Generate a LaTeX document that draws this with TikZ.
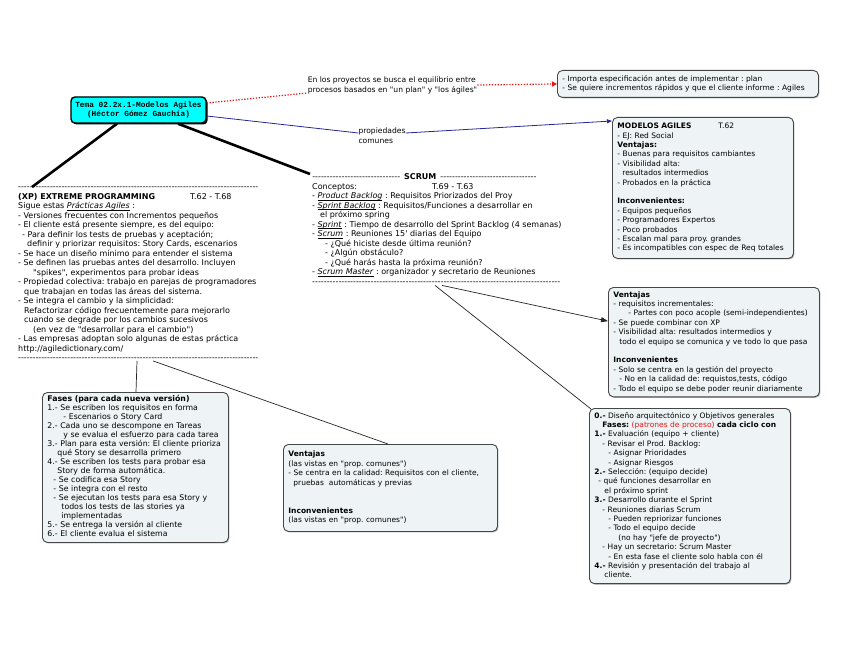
\documentclass[tikz,border=0pt]{standalone}
\usepackage{fontspec}
\setmainfont{DejaVu Sans}
\setmonofont{DejaVu Sans}
\newfontfamily\titlefont{Liberation Mono}
\usetikzlibrary{arrows.meta,shadows}
\definecolor{boxfill}{RGB}{238,244,245}
\definecolor{boxline}{RGB}{70,70,70}
\definecolor{linkblue}{RGB}{40,40,150}
\definecolor{titlecyan}{RGB}{0,255,255}
\definecolor{linkred}{RGB}{235,20,20}
\newcommand\dfill[1]{\hbox to #1{\xleaders\hbox{-}\hfill}}
\newcommand\ulit[1]{\setbox0\hbox{\textit{#1}}\rlap{\vrule width \wd0 height -1.1pt depth 1.6pt}\box0\relax}
\newcommand\ind[1]{\hspace*{#1pt}}
\tikzset{
  freetext/.style={inner sep=0pt, anchor=north west, align=left,
    font=\ttfamily\frenchspacing\fontsize{8}{9.5}\selectfont},
  infobox/.style={draw=boxline, line width=0.9pt, fill=boxfill, rounded corners=5pt,
    drop shadow={shadow xshift=1pt, shadow yshift=-1pt, fill=black, opacity=0.3},
    anchor=north west, align=left, inner xsep=5pt, inner ysep=3pt,
    font=\ttfamily\frenchspacing\fontsize{7.5}{9.4}\selectfont},
  titlebox/.style={draw=black, line width=1.4pt, fill=titlecyan, rounded corners=4pt,
    drop shadow={shadow xshift=1.5pt, shadow yshift=-1.5pt, fill=black, opacity=1},
    align=center, inner sep=2pt, minimum width=135pt, minimum height=26pt,
    font=\titlefont\bfseries\fontsize{7.8}{9.5}\selectfont},
  reddot/.style={draw=linkred, line width=1.2pt, dash pattern=on 1.3pt off 1.6pt},
  bluelink/.style={draw=linkblue, line width=0.8pt},
  thickline/.style={draw=black, line width=2.6pt},
  thinline/.style={draw=black!85, line width=0.7pt},
}
\begin{document}
\frenchspacing
\begin{tikzpicture}[x=1pt,y=-1pt]
\fill[white] (0,0) rectangle (848,655);
\useasboundingbox (0,0) rectangle (848,655);

% title
\node[titlebox] (title) at (138.5,110) {Tema 02.2x.1-Modelos Agiles\\(Héctor Gómez Gauchía)};

% red comment text
\node[freetext, anchor=center, font=\ttfamily\frenchspacing\fontsize{7.6}{10}\selectfont] (redtxt) at (392.5,85)
  {En los proyectos se busca el equilibrio entre\\procesos basados en "un plan" y "los ágiles"};

% top right box
\node[infobox, text width=251pt, minimum height=27pt] (box1) at (557,70)
  {\strut- Importa especificación antes de implementar : plan\\
   - Se quiere incrementos rápidos y que el cliente informe : Agiles\strut};

% propiedades comunes
\node[freetext, anchor=center, font=\ttfamily\fontsize{7.6}{10}\selectfont] (prop) at (382,136) {propiedades\\comunes};

% MODELOS AGILES box
\node[infobox, text width=171pt, minimum height=141pt] (modelos) at (612,117)
  {\strut\makebox[101pt][l]{\textbf{MODELOS AGILES}}T.62\\
   - EJ: Red Social\\
   \textbf{Ventajas:}\\
   - Buenas para requisitos cambiantes\\
   - Visibilidad alta:\\
   \ind{5}resultados intermedios\\
   - Probados en la práctica\\[9.4pt]
   \textbf{Inconvenientes:}\\
   - Equipos pequeños\\
   - Programadores Expertos\\
   - Poco probados\\
   - Escalan mal para proy. grandes\\
   - Es incompatibles con espec de Req totales\strut};

% XP free text
\node[freetext] (xp) at (18,183)
  {\strut\dfill{240pt}\\
   \makebox[172pt][l]{\textbf{(XP) EXTREME PROGRAMMING}}T.62 - T.68\\
   Sigue estas \ulit{Prácticas Agiles} :\\
   - Versiones frecuentes con Incrementos pequeños\\
   - El cliente está presente siempre, es del equipo:\\
   \ind{4}- Para definir los tests de pruebas y aceptación;\\
   \ind{9}definir y priorizar requisitos: Story Cards, escenarios\\
   - Se hace un diseño mínimo para entender el sistema\\
   - Se definen las pruebas antes del desarrollo. Incluyen\\
   \ind{15}"spikes", experimentos para probar ideas\\
   - Propiedad colectiva: trabajo en parejas de programadores\\
   \ind{6}que trabajan en todas las áreas del sistema.\\
   - Se integra el cambio y la simplicidad:\\
   \ind{6}Refactorizar código frecuentemente para mejorarlo\\
   \ind{6}cuando se degrade por los cambios sucesivos\\
   \ind{15}(en vez de "desarrollar para el cambio")\\
   - Las empresas adoptan solo algunas de estas práctica\\
   http://agiledictionary.com/\\
   \dfill{240pt}\strut};

% SCRUM free text
\node[freetext] (scrum) at (312,173)
  {\strut\dfill{88pt}\hspace{4pt}\textbf{SCRUM}\hspace{4pt}\dfill{96pt}\\
   \makebox[120pt][l]{Conceptos:}T.69 - T.63\\
   - \ulit{Product Backlog} : Requisitos Priorizados del Proy\\
   - \ulit{Sprint Backlog} : Requisitos/Funciones a desarrollar en\\
   \ind{8}el próximo spring\\
   - \ulit{Sprint} : Tiempo de desarrollo del Sprint Backlog (4 semanas)\\
   - \ulit{Scrum} : Reuniones 15' diarias del Equipo\\
   \ind{13}- ¿Qué hiciste desde última reunión?\\
   \ind{13}- ¿Algún obstáculo?\\
   \ind{13}- ¿Qué harás hasta la próxima reunión?\\
   - \ulit{Scrum Master} : organizador y secretario de Reuniones\\
   \dfill{248pt}\strut};

% SCRUM Ventajas box
\node[infobox, text width=201pt, minimum height=109pt] (scrumV) at (608,287)
  {\strut\textbf{Ventajas}\\
   - requisitos incrementales:\\
   \ind{15}- Partes con poco acople (semi-independientes)\\
   - Se puede combinar con XP\\
   - Visibilidad alta: resultados intermedios y\\
   \ind{6}todo el equipo se comunica y ve todo lo que pasa\\[9.4pt]
   \textbf{Inconvenientes}\\
   - Solo se centra en la gestión del proyecto\\
   \ind{6}- No en la calidad de: requistos,tests, código\\
   - Todo el equipo se debe poder reunir diariamente\strut};

% SCRUM Fases box
\node[infobox, text width=191pt, minimum height=174pt] (scrumF) at (589,408)
  {\strut\textbf{0.-} Diseño arquitectónico y Objetivos generales\\
   \ind{8}\textbf{Fases:} {\color{linkred}(patrones de proceso)} \textbf{cada ciclo con}\\
   \textbf{1.-} Evaluación (equipo + cliente)\\
   \ind{8}- Revisar el Prod. Backlog:\\
   \ind{14}- Asignar Prioridades\\
   \ind{14}- Asignar Riesgos\\
   \textbf{2.-} Selección: (equipo decide)\\
   \ind{4}- qué funciones desarrollar en\\
   \ind{10}el próximo sprint\\
   \textbf{3.-} Desarrollo durante el Sprint\\
   \ind{8}- Reuniones diarias Scrum\\
   \ind{14}- Pueden repriorizar funciones\\
   \ind{14}- Todo el equipo decide\\
   \ind{24}(no hay "jefe de proyecto")\\
   \ind{8}- Hay un secretario: Scrum Master\\
   \ind{14}- En esta fase el cliente solo habla con él\\
   \textbf{4.-} Revisión y presentación del trabajo al\\
   \ind{10}cliente.\strut};

% XP Fases box
\node[infobox, text width=176pt, minimum height=148pt,
      font=\ttfamily\frenchspacing\fontsize{7.8}{9.0}\selectfont] (xpF) at (42,392)
  {\strut\textbf{Fases (para cada nueva versión)}\\
   1.- Se escriben los requisitos en forma\\
   \ind{16}- Escenarios o Story Card\\
   2.- Cada uno se descompone en Tareas\\
   \ind{16}y se evalua el esfuerzo para cada tarea\\
   3.- Plan para esta versión: El cliente prioriza\\
   \ind{10}qué Story se desarrolla primero\\
   4.- Se escriben los tests para probar esa\\
   \ind{10}Story de forma automática.\\
   \ind{6}- Se codifica esa Story\\
   \ind{6}- Se integra con el resto\\
   \ind{6}- Se ejecutan los tests para esa Story y\\
   \ind{14}todos los tests de las stories ya\\
   \ind{14}implementadas\\
   5.- Se entrega la versión al cliente\\
   6.- El cliente evalua el sistema\strut};

% XP Ventajas box
\node[infobox, text width=204pt, minimum height=87pt] (xpV) at (283,444)
  {\strut\textbf{Ventajas}\\
   (las vistas en "prop. comunes")\\
   - Se centra en la calidad: Requisitos con el cliente,\\
   \ind{5}pruebas\ \ automáticas y previas\\[18.8pt]
   \textbf{Inconvenientes}\\
   (las vistas en "prop. comunes")\strut};

% connectors
\draw[reddot] ([yshift=7pt]title.east) -- ([yshift=-8pt]redtxt.west);
\draw[reddot, -{Triangle[length=5pt,width=5pt]}] (redtxt.east) -- (box1.west);
\draw[bluelink] ([yshift=-6pt]title.east) -- ([yshift=3pt]prop.west);
\draw[bluelink, -{Triangle[length=5pt,width=4pt]}] ([yshift=3pt]prop.east) -- ([yshift=-4pt]modelos.north west);
\draw[thickline] ([xshift=-21.5pt]title.south) -- ([xshift=14pt,yshift=-4pt]xp.north west);
\draw[thickline] ([xshift=39.5pt]title.south) -- ([xshift=-2pt,yshift=-1pt]scrum.north west);
\draw[thinline] ([xshift=119pt,yshift=3pt]xp.south west) -- ([xshift=94pt]xpF.north west);
\draw[thinline] ([xshift=135pt,yshift=3pt]xp.south west) -- ([xshift=105pt]xpV.north west);
\draw[thinline] ([xshift=123pt,yshift=2pt]scrum.south west) -- ([xshift=2pt,yshift=-1pt]scrumF.north west);
\draw[thinline, -{Triangle[length=7pt,width=5pt]}] ([xshift=130pt,yshift=2pt]scrum.south west) -- ([yshift=21pt]scrumV.west);
\end{tikzpicture}
\end{document}
